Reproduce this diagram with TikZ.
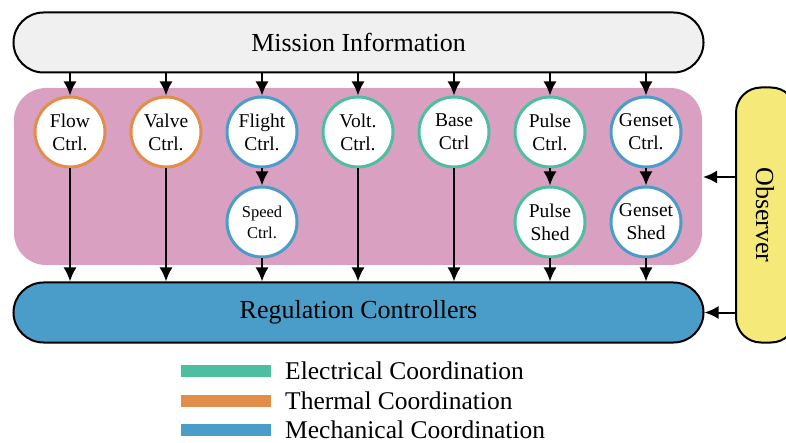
\documentclass[tikz,border=0pt]{standalone}
\usepackage{fontspec}
\setmainfont{Liberation Serif}
\usetikzlibrary{arrows.meta}
\definecolor{mission}{RGB}{240,240,240}
\definecolor{layer}{RGB}{217,160,193}
\definecolor{elec}{RGB}{78,190,160}
\definecolor{therm}{RGB}{226,142,74}
\definecolor{mech}{RGB}{74,157,200}
\definecolor{obs}{RGB}{245,233,122}
\tikzset{
  bar/.style={draw=black, line width=2pt, rounded corners=30pt, minimum height=60pt, minimum width=690pt, font=\fontsize{26}{28}\selectfont},
  ctrl/.style={circle, fill=white, line width=3pt, minimum size=70pt, inner sep=0pt, align=center, font=\fontsize{19.5}{23}\selectfont},
  flow/.style={-{Latex[length=14pt,width=13pt]}, line width=2pt},
  legend/.style={line width=12pt},
  legtext/.style={anchor=base west, inner sep=0pt, text depth=0pt, font=\fontsize{25.5}{28}\selectfont}
}
\begin{document}
\begin{tikzpicture}[x=1pt,y=-1pt]
\useasboundingbox (0,0) rectangle (786,443);
\clip (0,0) rectangle (786,443);

% coordination layer
\fill[layer, rounded corners=32pt] (14,88) rectangle (702,265);

% top and bottom bars
\node[bar, fill=mission] (mis) at (358.5,42.5) {Mission Information};
\node[bar, fill=mech] (reg) at (358.5,312.5) {Regulation Controllers};

% observer
\node[draw=black, line width=2pt, fill=obs, rounded corners=25pt, minimum width=60pt, minimum height=255pt] (obsv) at (766,215) {};
\node[rotate=-90, font=\fontsize{26}{28}\selectfont] (obst) at (765,215) {Observer};

% controllers
\node[ctrl, draw=therm] (flow) at (70,132) {Flow\\Ctrl.};
\node[ctrl, draw=therm] (valve) at (166,132) {Valve\\Ctrl.};
\node[ctrl, draw=mech] (flight) at (262,132) {Flight\\Ctrl.};
\node[ctrl, draw=mech, font=\fontsize{16.5}{21}\selectfont] (speed) at (262,222) {Speed\\Ctrl.};
\node[ctrl, draw=elec] (volt) at (358,132) {Volt.\\Ctrl.};
\node[ctrl, draw=elec] (base) at (454,132) {Base\\Ctrl};
\node[ctrl, draw=elec] (pulse) at (550,132) {Pulse\\Ctrl.};
\node[ctrl, draw=elec] (pshed) at (550,222) {Pulse\\Shed};
\node[ctrl, draw=mech] (genset) at (646,132) {Genset\\Ctrl.};
\node[ctrl, draw=mech] (gshed) at (646,222) {Genset\\Shed};

% mission to controllers
\foreach \n in {flow,valve,flight,volt,base,pulse,genset}
  \draw[flow] (mis.south -| \n) -- (\n);

% controllers to regulation
\foreach \n in {flow,valve,speed,volt,base,pshed,gshed}
  \draw[flow] (\n) -- (reg.north -| \n);

% chained controllers
\draw[flow] (flight) -- (speed);
\draw[flow] (pulse) -- (pshed);
\draw[flow] (genset) -- (gshed);

% observer feedback
\coordinate (layerR) at (703,177);
\draw[flow] (obsv.west |- layerR) -- (layerR);
\draw[flow] (obsv.west |- reg.east) -- (reg.east);

% legend
\draw[legend, elec] (181,371) -- (271,371);
\draw[legend, therm] (181,400.5) -- (271,400.5);
\draw[legend, mech] (181,430) -- (271,430);
\node[legtext] (t1) at (285,379.5) {Electrical Coordination};
\node[legtext] (t2) at (285,409) {Thermal Coordination};
\node[legtext] (t3) at (285,438.5) {Mechanical Coordination};
\end{tikzpicture}
\end{document}
